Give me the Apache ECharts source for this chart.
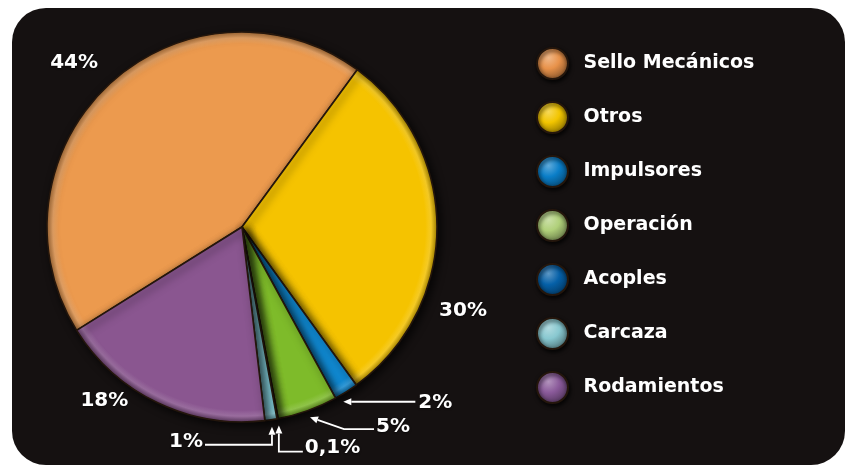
<!DOCTYPE html>
<html>
<head>
<meta charset="utf-8">
<script src="https://cdn.jsdelivr.net/npm/echarts@6/dist/echarts.min.js"></script>
<style>
  html, body { margin: 0; padding: 0; background: #ffffff; width: 849px; height: 466px; overflow: hidden; }
  #panel { position: absolute; left: 12px; top: 8px; width: 833px; height: 457px; border-radius: 34px; background: #151111; }
  #chart { position: absolute; left: 0; top: 0; width: 849px; height: 466px; }
</style>
</head>
<body>
<div id="panel"></div>
<div id="chart"></div>
<script>
// Failure causes, share of total (%)
const CATEGORIES = ['Sello Mecánicos', 'Otros', 'Impulsores', 'Operación', 'Acoples', 'Carcaza', 'Rodamientos'];
const SHARES = [44, 30, 2, 5, 0.1, 1, 18];

// Slice fills and legend bullet fills
const SLICE_COLORS = ['#EC9A4E', '#F5C300', '#1088D0', '#7EBB2A', '#27409E', '#86D2DF', '#8A5690'];
const LEGEND_COLORS = ['#E8924A', '#F2C500', '#0A7EC8', '#B0D07A', '#0560A8', '#88C8D0', '#8A5A9A'];

const FONT = '"DejaVu Sans", Verdana, sans-serif';
const CX = 242, CY = 227, R = 195;

function shade(hex, f) {
  const n = parseInt(hex.slice(1), 16);
  let r = (n >> 16) & 255, g = (n >> 8) & 255, b = n & 255;
  const mix = (c) => f < 0 ? Math.round(c * (1 + f)) : Math.round(c + (255 - c) * f);
  return 'rgb(' + mix(r) + ',' + mix(g) + ',' + mix(b) + ')';
}

// darkened rim gives the slices a bevelled edge
function rimFill(base) {
  return {
    type: 'radial', x: CX, y: CY, r: R, global: true,
    colorStops: [
      { offset: 0, color: base },
      { offset: 0.94, color: base },
      { offset: 0.97, color: shade(base, 0.15) },
      { offset: 1, color: shade(base, -0.3) }
    ]
  };
}

// glossy bullet for the legend
function sphereFill(base) {
  return {
    type: 'radial', x: 0.38, y: 0.32, r: 0.75,
    colorStops: [
      { offset: 0, color: shade(base, 0.35) },
      { offset: 0.45, color: base },
      { offset: 1, color: shade(base, -0.45) }
    ]
  };
}

const fmtPct = (v) => String(v).replace('.', ',') + '%';

const chart = echarts.init(document.getElementById('chart'), null, { renderer: 'canvas' });

chart.setOption({
  animation: false,
  backgroundColor: 'transparent',
  legend: {
    orient: 'vertical',
    left: 531,
    top: 42,
    itemWidth: 52,
    itemHeight: 31,
    itemGap: 21,
    icon: 'circle',
    selectedMode: false,
    textStyle: { color: '#ffffff', fontFamily: FONT, fontWeight: 'bold', fontSize: 19 },
    data: CATEGORIES.map((name, i) => ({
      name,
      itemStyle: {
        color: sphereFill(LEGEND_COLORS[i]),
        shadowBlur: 4, shadowColor: 'rgba(0,0,0,0.9)', shadowOffsetX: 1, shadowOffsetY: 2
      }
    }))
  },
  series: [{
    type: 'pie',
    center: [CX, CY],
    radius: R,
    startAngle: -148,
    clockwise: true,
    avoidLabelOverlap: false,
    label: { show: false },
    labelLine: { show: false },
    emphasis: { disabled: true },
    itemStyle: {
      borderColor: '#24160c',
      borderWidth: 1.6,
      shadowBlur: 9,
      shadowColor: 'rgba(0,0,0,0.75)',
      shadowOffsetX: 3,
      shadowOffsetY: 3
    },
    data: CATEGORIES.map((name, i) => ({
      name,
      value: SHARES[i],
      itemStyle: { color: rimFill(SLICE_COLORS[i]) }
    }))
  }]
});

// Percentage annotations, placed relative to each slice's angle
// plain: text offset from a point just outside the rim
const PLAIN_LABELS = [
  { index: 0, gap: 40, dx: -8, dy: 8 },
  { index: 1, gap: 40, dx: -14, dy: 83 },
  { index: 6, gap: 40, dx: -36, dy: -38 }
];
// callouts: arrow at the rim (frac = position across the slice), elbow route, then the text
const CALLOUTS = [
  { index: 2, frac: 0.8, route: [[72, 0]], text: [75, 1], align: 'left' },
  { index: 3, frac: 0.5, route: [[34, 12], [64, 12]], text: [66, 10], align: 'left' },
  { index: 4, frac: 0.5, route: [[0, 26], [24, 26]], text: [26, 22], align: 'left' },
  { index: 5, frac: 0.5, route: [[0, 18], [-67, 18]], text: [-69, 15], align: 'right' }
];

const seriesData = chart.getModel().getSeriesByIndex(0).getData();
const graphics = [];

function rimPoint(i, extra, frac) {
  const L = seriesData.getItemLayout(i);
  const f = frac == null ? 0.5 : frac;
  const a = L.startAngle + (L.endAngle - L.startAngle) * f;
  return [L.cx + (L.r + extra) * Math.cos(a), L.cy + (L.r + extra) * Math.sin(a)];
}

function labelText(x, y, str, align) {
  return {
    type: 'text', x, y, z: 20,
    style: {
      text: str, fill: '#ffffff', fontFamily: FONT, fontWeight: 'bold', fontSize: 20,
      align, verticalAlign: 'middle',
      textShadowColor: 'rgba(0,0,0,0.6)', textShadowBlur: 2, textShadowOffsetY: 1
    }
  };
}

PLAIN_LABELS.forEach((c) => {
  const p = rimPoint(c.index, c.gap);
  graphics.push(labelText(p[0] + c.dx, p[1] + c.dy, fmtPct(SHARES[c.index]), 'center'));
});

CALLOUTS.forEach((c) => {
  const tip = rimPoint(c.index, 7, c.frac);
  const pts = [tip].concat(c.route.map((o) => [tip[0] + o[0], tip[1] + o[1]]));
  // arrowhead pointing back at the slice
  const q = pts[1];
  let dx = tip[0] - q[0], dy = tip[1] - q[1];
  const len = Math.hypot(dx, dy) || 1;
  dx /= len; dy /= len;
  const bx = tip[0] - dx * 8, by = tip[1] - dy * 8;
  const nx = -dy, ny = dx;
  graphics.push({
    type: 'polyline', z: 20,
    shape: { points: [[bx, by]].concat(pts.slice(1)) },
    style: { stroke: '#ffffff', lineWidth: 1.8, fill: null }
  });
  graphics.push({
    type: 'polygon', z: 20,
    shape: { points: [tip, [bx + nx * 3.5, by + ny * 3.5], [bx - nx * 3.5, by - ny * 3.5]] },
    style: { fill: '#ffffff' }
  });
  graphics.push(labelText(tip[0] + c.text[0], tip[1] + c.text[1], fmtPct(SHARES[c.index]), c.align));
});

chart.setOption({ graphic: graphics });
</script>
</body>
</html>
